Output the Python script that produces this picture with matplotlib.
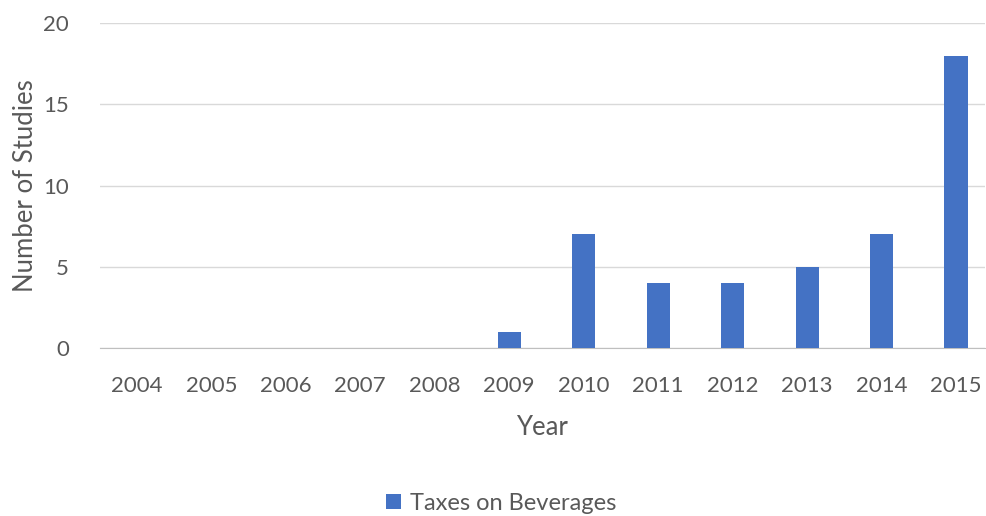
import matplotlib
matplotlib.use("Agg")
from matplotlib import pyplot as plt

years = ['2004', '2005', '2006', '2007', '2008', '2009',
         '2010', '2011', '2012', '2013', '2014', '2015']
studies = [0, 0, 0, 0, 0, 1, 7, 4, 4, 5, 7, 18]
series_name = 'Taxes on Beverages'
yticks = [0, 5, 10, 15, 20]

plt.rcParams['font.family'] = ['Lato', 'DejaVu Sans']
text_color = '#595959'

fig = plt.figure(figsize=(9.87, 5.16), dpi=100)
ax = fig.add_axes([0.101, 0.326, 0.897, 0.629])

x = range(len(years))
ax.bar(x, studies, width=0.31, color='#4472C4', label=series_name, zorder=3)

ax.set_xlim(-0.5, 11.39)
ax.set_ylim(0, 20)
ax.set_yticks(yticks)
ax.set_xticks(list(x))
ax.set_xticklabels(years)
ax.grid(axis='y', color='#D9D9D9', linewidth=1, zorder=0)
for s in ['top', 'right', 'left']:
    ax.spines[s].set_visible(False)
ax.spines['bottom'].set_color('#BFBFBF')
ax.tick_params(axis='both', length=0, labelsize=16, colors=text_color)
ax.tick_params(axis='x', pad=20)
ax.tick_params(axis='y', pad=22)

ax.set_xlabel('Year', fontsize=18.5, color=text_color, labelpad=14)
ax.set_ylabel('Number of Studies', fontsize=18.5, color=text_color, va='center')
ax.yaxis.set_label_coords(-0.084, 0.5)

fig.legend(loc='center', bbox_to_anchor=(0.508, 0.025), frameon=False,
           fontsize=17, handlelength=0.6, handleheight=0.6, handletextpad=0.4,
           labelcolor=text_color)

fig.savefig('out.png', dpi=100)
